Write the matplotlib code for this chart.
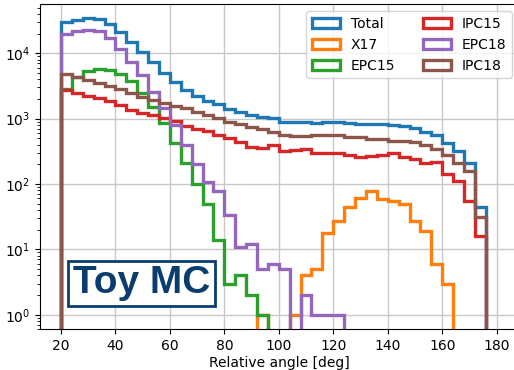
import numpy as np
import matplotlib
matplotlib.use("Agg")
import matplotlib.pyplot as plt

# bin edges: 20..176 deg, width 4
edges = np.arange(20, 177, 4)

total = [30000, 32500, 34500, 33500, 28000, 21000, 15000, 10600, 7400, 4940,
         3680, 2780, 2250, 1850, 1650, 1420, 1270, 1140, 1055, 1010,
         900, 875, 885, 855, 875, 890, 845, 840, 830, 825,
         810, 770, 712, 628, 562, 427, 318, 212, 45]
x17 = [0, 0, 0, 0, 0, 0, 0, 0, 0, 0,
       0, 0, 0, 0, 0, 0, 0, 0, 1, 0,
       0, 1, 4, 5, 18, 27, 45, 62, 78, 58,
       54, 49, 27, 19, 6, 3, 0, 0, 0]
epc15 = [2800, 4300, 5300, 5700, 5500, 4800, 3700, 2450, 1520, 870,
         430, 207, 100, 50, 14, 3, 4, 2, 1, 0,
         0, 0, 0, 0, 0, 0, 0, 0, 0, 0,
         0, 0, 0, 0, 0, 0, 0, 0, 0]
ipc15 = [2750, 2500, 2250, 2050, 1850, 1620, 1360, 1230, 1140, 1010,
         930, 772, 700, 640, 570, 500, 440, 370, 352, 395,
         324, 330, 340, 295, 295, 302, 278, 256, 268, 278,
         295, 256, 239, 207, 219, 142, 112, 55, 16]
epc18 = [20000, 22000, 23000, 22000, 17000, 11500, 7400, 4660, 2590, 1440,
         800, 400, 202, 108, 78, 33, 11, 12, 5, 6,
         5, 0, 2, 1, 1, 1, 0, 0, 0, 0,
         0, 0, 0, 0, 0, 0, 0, 0, 0]
ipc18 = [4800, 4400, 3900, 3500, 3100, 2810, 2440, 2170, 1930, 1720,
         1560, 1440, 1280, 1120, 1010, 900, 830, 750, 700, 630,
         570, 545, 545, 560, 565, 565, 520, 520, 485, 485,
         460, 460, 444, 395, 340, 278, 212, 160, 31]

series = [("Total", total), ("X17", x17), ("EPC15", epc15),
          ("IPC15", ipc15), ("EPC18", epc18), ("IPC18", ipc18)]

fig = plt.figure(figsize=(5.14, 3.70), dpi=100)
ax = fig.add_axes([40/514, 40.7/370, 479/514, 325/370])

centers = 0.5 * (edges[:-1] + edges[1:])
for i, (lab, vals) in enumerate(series):
    ax.hist(centers, bins=edges, weights=vals, histtype="step",
            lw=2.4, color=f"C{i}", label=lab, log=True)

ax.set_yscale("log")
ax.set_xlim(12.3, 188.2)
ax.set_ylim(0.598, 56000)
ax.set_xticks([20, 40, 60, 80, 100, 120, 140, 160, 180])
ax.grid(True, color="#c8c8c8", lw=1.0)
ax.set_axisbelow(True)
ax.tick_params(labelsize=10)
ax.set_xlabel("Relative angle [deg]", fontsize=10, labelpad=2)

ax.legend(loc="upper right", ncol=2, fontsize=10)

navy = "#0a3c6e"
ax.text(101.5/479, 0.1415, "Toy MC", transform=ax.transAxes, ha="center",
        va="center", fontsize=28, fontweight="bold", color=navy,
        family="Liberation Sans",
        bbox=dict(boxstyle="square,pad=0.12", fc="white", ec=navy, lw=2))

fig.savefig("out.png", dpi=100)
